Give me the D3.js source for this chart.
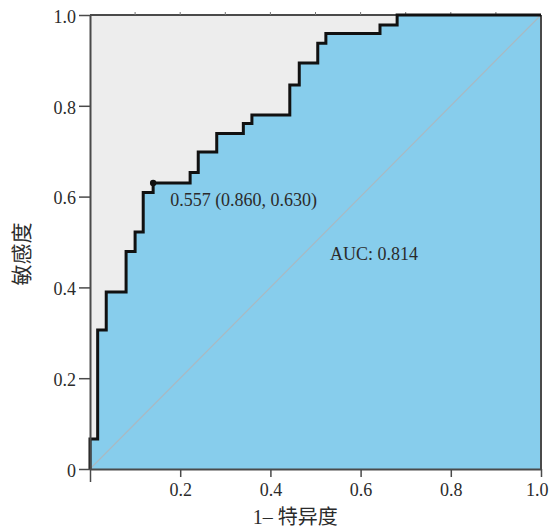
<!DOCTYPE html>
<html>
<head>
<meta charset="utf-8">
<script src="https://cdn.jsdelivr.net/npm/d3@7"></script>
<style>
  html, body { margin: 0; padding: 0; background: #fff; }
  svg { display: block; }
</style>
</head>
<body>
<svg id="chart" width="550" height="529"></svg>
<script>
// ROC curve corner points (1 - specificity, sensitivity)
const fpr = [0, 0, 0.017, 0.036, 0.080, 0.100, 0.118, 0.140, 0.222, 0.240, 0.281, 0.340, 0.359, 0.443, 0.464, 0.505, 0.523, 0.643, 0.681, 1.0];
const tpr = [0, 0.066, 0.306, 0.390, 0.479, 0.522, 0.609, 0.630, 0.653, 0.698, 0.739, 0.761, 0.780, 0.846, 0.894, 0.938, 0.959, 0.978, 1.0, 1.0];

const xTickValues = [0, 0.2, 0.4, 0.6, 0.8, 1.0];
const xTickLabels = ["", "0.2", "0.4", "0.6", "0.8", "1.0"];
const yTickValues = [0, 0.2, 0.4, 0.6, 0.8, 1.0];
const yTickLabels = ["0", "0.2", "0.4", "0.6", "0.8", "1.0"];
const topMinorTicks = [0.1, 0.2, 0.3, 0.4, 0.5, 0.6, 0.7, 0.8, 0.9];

const cutoffPoint = [0.140, 0.630];
const cutoffLabel = "0.557 (0.860, 0.630)";
const aucLabel = "AUC: 0.814";
const aucLabelPos = [0.532, 0.46];
const xTitle = "1– 特异度";
const yTitle = "敏感度";

const margin = { left: 90, top: 15, right: 9, bottom: 60 };
const W = 550, H = 529;
const pw = W - margin.left - margin.right;   // 451
const ph = H - margin.top - margin.bottom;   // 454

const svg = d3.select("#chart");
const g = svg.append("g").attr("transform", `translate(${margin.left},${margin.top})`);

const x = d3.scaleLinear().domain([0, 1]).range([0, pw]);
const y = d3.scaleLinear().domain([0, 1]).range([ph, 0]);

const serif = "'Liberation Serif', 'Times New Roman', serif";
const cjk = "'Noto Sans CJK SC', sans-serif";
const textColor = "#2b2b2b";

// background
g.append("rect").attr("x", 0).attr("y", 0).attr("width", pw).attr("height", ph).attr("fill", "#ededed");

const pts = fpr.map((f, i) => [f, tpr[i]]);

// area under curve
g.append("path")
  .datum(pts)
  .attr("fill", "#87cdec")
  .attr("d", d3.area().x(d => x(d[0])).y0(y(0)).y1(d => y(d[1])).curve(d3.curveStepAfter));

// diagonal reference
g.append("path")
  .datum([[0, 0], [1, 1]])
  .attr("fill", "none")
  .attr("stroke", "#a9b9c2")
  .attr("stroke-width", 1.2)
  .attr("d", d3.line().x(d => x(d[0])).y(d => y(d[1])));

// frame top/right
g.append("line").attr("x1", 0).attr("x2", pw).attr("y1", 0).attr("y2", 0).attr("stroke", "#4a4a4a").attr("stroke-width", 2);
g.append("line").attr("x1", pw).attr("x2", pw).attr("y1", 0).attr("y2", ph).attr("stroke", "#4a4a4a").attr("stroke-width", 2);

// top minor ticks
g.selectAll(".tminor").data(topMinorTicks).join("line")
  .attr("x1", d => x(d)).attr("x2", d => x(d)).attr("y1", -3).attr("y2", 0)
  .attr("stroke", "#777").attr("stroke-width", 1);

// ROC curve
g.append("path")
  .datum(pts)
  .attr("fill", "none")
  .attr("stroke", "#111")
  .attr("stroke-width", 3)
  .attr("stroke-linejoin", "miter")
  .attr("d", d3.line().x(d => x(d[0])).y(d => y(d[1])).curve(d3.curveStepAfter));

// cutoff point
g.append("circle").attr("cx", x(cutoffPoint[0])).attr("cy", y(cutoffPoint[1])).attr("r", 3.2).attr("fill", "#111");

// axes
const xAxis = g.append("g").attr("transform", `translate(0,${ph})`)
  .call(d3.axisBottom(x).tickValues(xTickValues).tickSize(8).tickSizeOuter(0).tickPadding(6)
    .tickFormat((d, i) => xTickLabels[i]));
const yAxis = g.append("g")
  .call(d3.axisLeft(y).tickValues(yTickValues).tickSize(11).tickSizeOuter(0).tickPadding(3)
    .tickFormat((d, i) => yTickLabels[i]));

[xAxis, yAxis].forEach(a => {
  a.select(".domain").attr("stroke", "#4a4a4a").attr("stroke-width", 2);
  a.selectAll(".tick line").attr("stroke", "#4a4a4a").attr("stroke-width", 1.5);
  a.selectAll(".tick text").attr("fill", textColor).style("font-family", serif).style("font-size", "18px");
});
xAxis.selectAll(".tick").filter(d => d === 0).select("line").attr("y2", 13);
xAxis.selectAll(".tick").filter(d => d === 1).select("text").attr("text-anchor", "end").attr("dx", "7");
yAxis.selectAll(".tick text").attr("dy", "0.4em");

// annotations
g.append("text")
  .attr("x", x(cutoffPoint[0]) + 17).attr("y", y(cutoffPoint[1]) + 23)
  .attr("fill", textColor).style("font-family", serif).style("font-size", "18px")
  .text(cutoffLabel);
g.append("text")
  .attr("x", x(aucLabelPos[0])).attr("y", y(aucLabelPos[1]))
  .attr("fill", textColor).style("font-family", serif).style("font-size", "18px")
  .text(aucLabel);

// axis titles
svg.append("text")
  .attr("x", margin.left + pw * 0.455).attr("y", 524)
  .attr("text-anchor", "middle")
  .attr("fill", textColor)
  .style("font-family", `${serif}, ${cjk}`).style("font-size", "20px")
  .text(xTitle);
svg.append("text")
  .attr("transform", `translate(29,254) rotate(-90)`)
  .attr("text-anchor", "middle")
  .attr("fill", textColor)
  .style("font-family", cjk).style("font-size", "21px")
  .text(yTitle);
</script>
</body>
</html>
